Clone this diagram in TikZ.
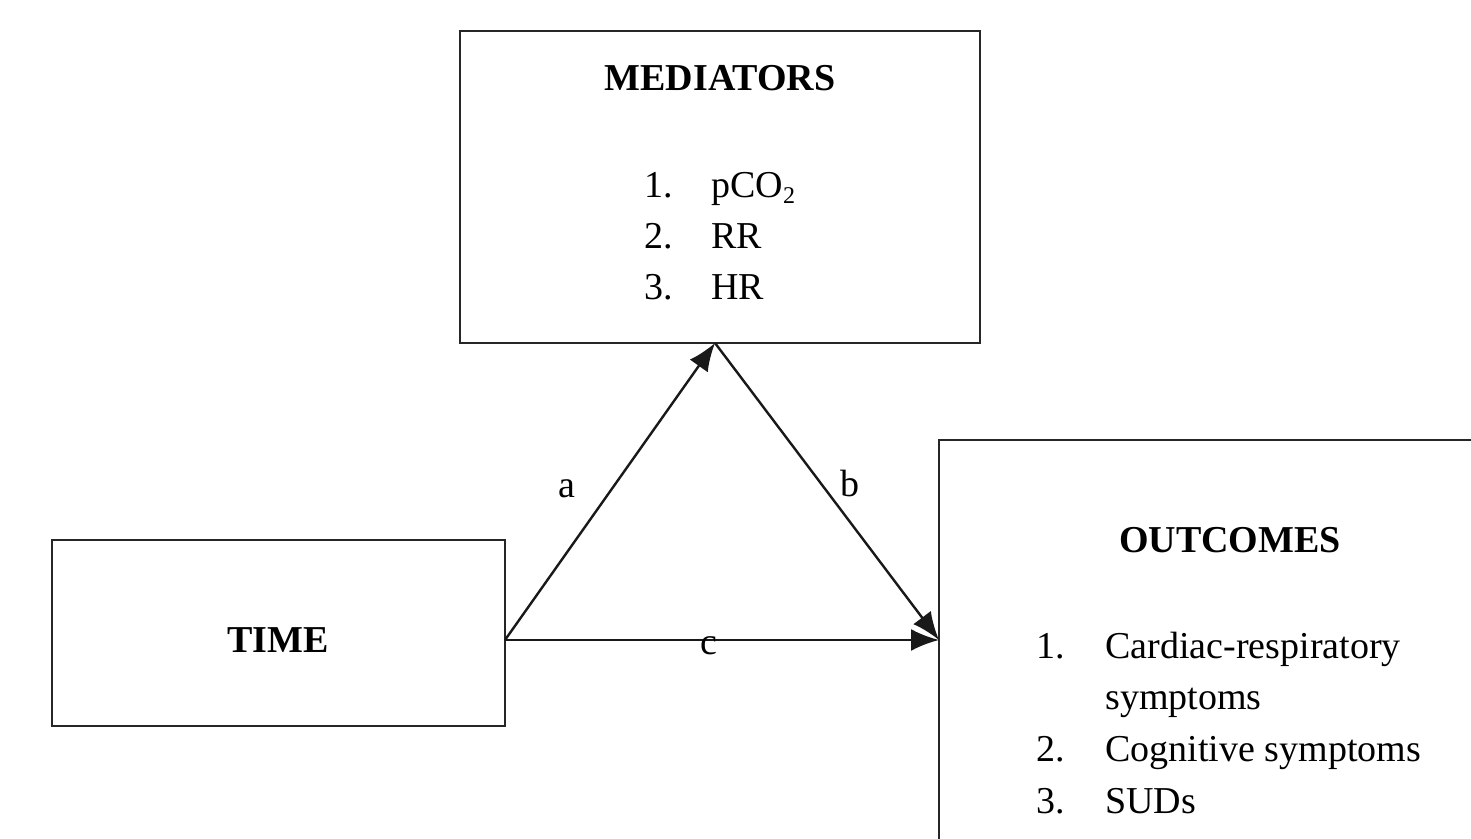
\documentclass[tikz,border=0pt]{standalone}
\usepackage{fontspec}
\setmainfont{Liberation Serif}
\usetikzlibrary{arrows.meta}
\begin{document}
\begin{tikzpicture}[x=0.5pt,y=-0.5pt,
  box/.style={draw=black!85, line width=1.4pt, rectangle, inner sep=0pt},
  txt/.style={font=\fontsize{19pt}{26pt}\selectfont, inner sep=0pt, anchor=base west},
  ttl/.style={font=\fontsize{19pt}{26pt}\selectfont\bfseries, inner sep=0pt, anchor=base},
  lab/.style={font=\fontsize{19pt}{26pt}\selectfont, inner sep=0pt, anchor=base},
  conn/.style={draw=black!90, line width=1.2pt, -{Latex[length=14pt,width=11pt]}}]
\clip (0,0) rectangle (1471,839);
\fill[white] (0,0) rectangle (1471,839);
% boxes
\node[box, minimum width=260pt, minimum height=156pt] (med) at (720,187) {};
\node[box, minimum width=226.5pt, minimum height=93pt] (time) at (278.5,633) {};
\node[box, minimum width=280pt, minimum height=215pt] (out) at (1219,655) {};
% titles
\node[ttl] (medt) at (720,91) {MEDIATORS};
\node[ttl] (timet) at (278,652) {TIME};
\node[ttl] (outt) at (1230,552) {OUTCOMES};
% mediator list
\node[txt] (m1n) at (644,198) {1.};
\node[txt] (m1) at (711,198) {pCO\raisebox{-0.3ex}{\fontsize{12pt}{12pt}\selectfont 2}};
\node[txt] (m2n) at (644,249) {2.};
\node[txt] (m2) at (711,249) {RR};
\node[txt] (m3n) at (644,300) {3.};
\node[txt] (m3) at (711,300) {HR};
% outcome list
\node[txt] (o1n) at (1036,658) {1.};
\node[txt] (o1) at (1105,658) {Cardiac-respiratory};
\node[txt] (o1b) at (1105,709) {symptoms};
\node[txt] (o2n) at (1036,761) {2.};
\node[txt] (o2) at (1105,761) {Cognitive symptoms};
\node[txt] (o3n) at (1036,813) {3.};
\node[txt] (o3) at (1105,813) {SUDs};
% connectors
\coordinate (ts) at (505,640);
\coordinate (mb) at (715,343);
\coordinate (ol) at (939,640);
\draw[conn] (ts) -- (mb);
\draw[conn] (mb) -- (ol);
\draw[conn] (ts) -- (ol);
% labels
\node[lab] (la) at (567,497) {a};
\node[lab] (lb) at (850,496) {b};
\node[lab] (lc) at (709,654) {c};
\end{tikzpicture}
\end{document}
